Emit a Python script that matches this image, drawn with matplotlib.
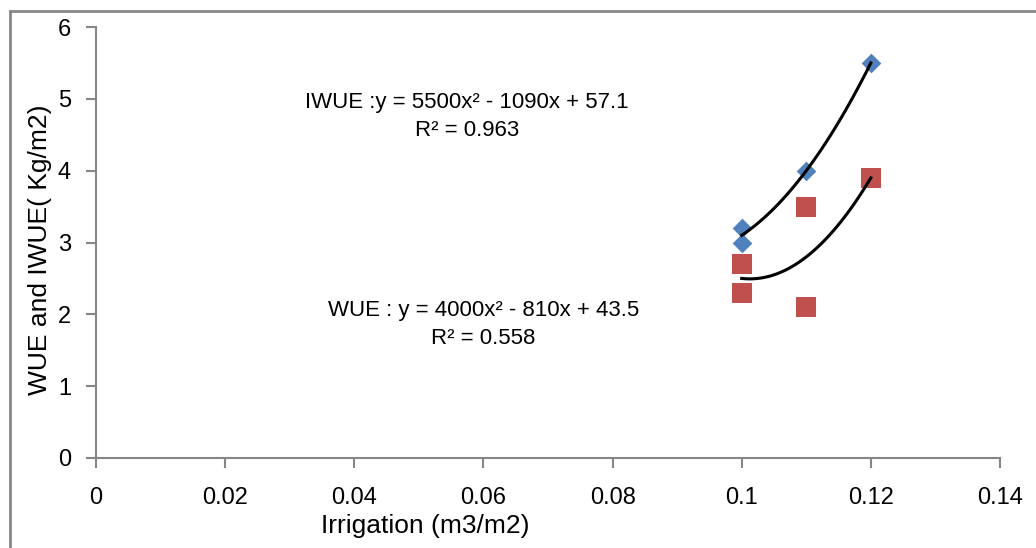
import numpy as np
import matplotlib
matplotlib.use("Agg")
import matplotlib.pyplot as plt
from matplotlib.lines import Line2D

# data
iwue_x = [0.10, 0.10, 0.11, 0.12]
iwue_y = [3.2, 3.0, 4.0, 5.5]
wue_x = [0.10, 0.10, 0.11, 0.11, 0.12]
wue_y = [2.7, 2.3, 3.5, 2.1, 3.9]

x_ticks = [0, 0.02, 0.04, 0.06, 0.08, 0.1, 0.12, 0.14]
x_tick_labels = ["0", "0.02", "0.04", "0.06", "0.08", "0.1", "0.12", "0.14"]
y_ticks = [0, 1, 2, 3, 4, 5, 6]

iwue_eq = "IWUE :y = 5500x² - 1090x + 57.1\nR² = 0.963"
wue_eq = "WUE : y = 4000x² - 810x + 43.5\nR² = 0.558"

plt.rcParams["font.family"] = ["Liberation Sans", "DejaVu Sans"]

W, H = 1036, 548
fig = plt.figure(figsize=(W / 100, H / 100), dpi=100)
ax = fig.add_axes([96 / W, 1 - 458 / H, (1000 - 96) / W, (458 - 27) / H])

grey = "#868686"
blue = "#4F81BD"
red = "#C0504D"

# polynomial trend lines (order 2), like Excel
for xs, ys in [(iwue_x, iwue_y), (wue_x, wue_y)]:
    coef = np.polyfit(xs, ys, 2)
    xx = np.linspace(min(xs), max(xs), 100)
    ax.plot(xx, np.polyval(coef, xx), color="black", lw=2.2, zorder=3)

ax.scatter(iwue_x, iwue_y, marker="D", s=10 ** 2, color=blue, zorder=2, linewidths=0)
ax.scatter(wue_x, wue_y, marker="s", s=13.8 ** 2, color=red, zorder=2, linewidths=0)

ax.set_xlim(0, 0.14)
ax.set_ylim(0, 6)
ax.set_xticks(x_ticks)
ax.set_xticklabels(x_tick_labels)
ax.set_yticks(y_ticks)

for s in ["top", "right"]:
    ax.spines[s].set_visible(False)
for s in ["left", "bottom"]:
    ax.spines[s].set_color(grey)
    ax.spines[s].set_linewidth(1.5)
ax.tick_params(direction="out", length=7, width=1.5, color=grey, labelsize=17)
ax.tick_params(axis="x", pad=14)
ax.tick_params(axis="y", pad=11)

fig.text(425 / W, 1 - 526 / H, "Irrigation (m3/m2)", ha="center", va="center", fontsize=19)
fig.text(40 / W, 1 - 250 / H, "WUE and IWUE( Kg/m2)", ha="center", va="center",
         rotation=90, fontsize=19)

ax.text(0.0575, 4.75, iwue_eq, ha="center", va="center", fontsize=16, linespacing=1.45)
ax.text(0.0600, 1.86, wue_eq, ha="center", va="center", fontsize=16, linespacing=1.45)

# outer chart border (top and left edge visible)
fig.add_artist(Line2D([10 / W, 10 / W], [0, 1 - 11 / H], transform=fig.transFigure,
                      color="#878787", lw=2))
fig.add_artist(Line2D([10 / W, 1], [1 - 11 / H, 1 - 11 / H], transform=fig.transFigure,
                      color="#878787", lw=2))

fig.savefig("out.png", dpi=100)
